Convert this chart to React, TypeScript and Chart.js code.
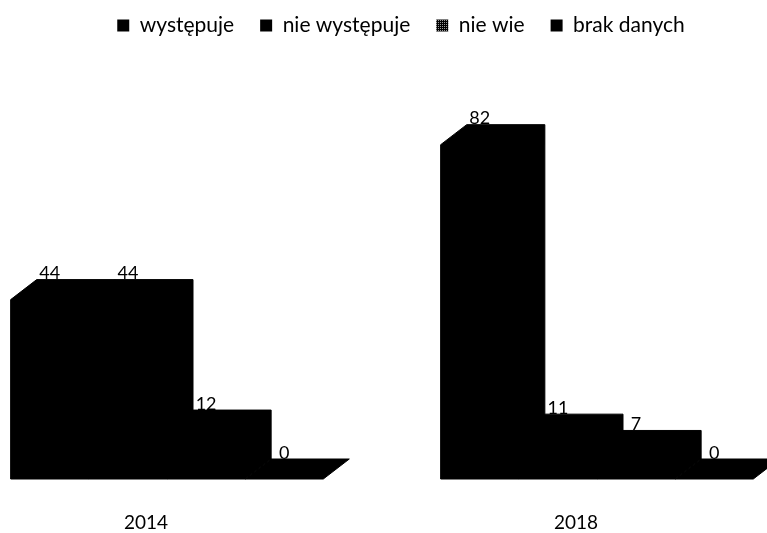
import React, { useEffect, useRef } from "react";
import { Chart, registerables } from "chart.js";

Chart.register(...registerables);

const years = ["2014", "2018"];
const seriesNames = ["występuje", "nie występuje", "nie wie", "brak danych"];
const wystepuje = [44, 82];
const nieWystepuje = [44, 11];
const nieWie = [12, 7];
const brakDanych = [0, 0];

const INK = "#000000";
const FONT = "Lato, sans-serif";
const DEPTH_X = 26;
const DEPTH_Y = 20;
const LABEL_RISE = 26;

const depthPlugin = {
  id: "depth",
  beforeDatasetsDraw(chart: any) {
    const { ctx } = chart;
    ctx.save();
    ctx.fillStyle = INK;
    ctx.strokeStyle = INK;
    ctx.lineWidth = 1;
    ctx.lineJoin = "round";
    chart.data.datasets.forEach((_: any, i: number) => {
      chart.getDatasetMeta(i).data.forEach((bar: any) => {
        const p = bar.getProps(["x", "y", "base", "width"], true);
        const l = p.x - p.width / 2;
        const r = p.x + p.width / 2;
        ctx.beginPath();
        ctx.moveTo(l, p.y);
        ctx.lineTo(l + DEPTH_X, p.y - DEPTH_Y);
        ctx.lineTo(r + DEPTH_X, p.y - DEPTH_Y);
        ctx.lineTo(r + DEPTH_X, p.base - DEPTH_Y);
        ctx.lineTo(r, p.base);
        ctx.lineTo(l, p.base);
        ctx.closePath();
        ctx.fill();
        ctx.stroke();
      });
    });
    ctx.restore();
  },
  afterDatasetsDraw(chart: any) {
    const { ctx } = chart;
    ctx.save();
    ctx.fillStyle = INK;
    ctx.font = `18px ${FONT}`;
    ctx.textAlign = "center";
    ctx.textBaseline = "middle";
    chart.data.datasets.forEach((ds: any, i: number) => {
      chart.getDatasetMeta(i).data.forEach((bar: any, j: number) => {
        const p = bar.getProps(["x", "y"], true);
        ctx.fillText(String(ds.data[j]), p.x, p.y - LABEL_RISE);
      });
    });
    ctx.restore();
  },
};

function speckle(): CanvasPattern | string {
  const c = document.createElement("canvas");
  c.width = 2;
  c.height = 2;
  const g = c.getContext("2d");
  if (!g) return "#444444";
  g.fillStyle = "#000000";
  g.fillRect(0, 0, 2, 2);
  g.fillStyle = "#9a9a9a";
  g.fillRect(0, 0, 1, 1);
  return g.createPattern(c, "repeat") || "#444444";
}

export default function App() {
  const ref = useRef<HTMLCanvasElement | null>(null);
  useEffect(() => {
    if (!ref.current) return;
    const values = [wystepuje, nieWystepuje, nieWie, brakDanych];
    const legendFill = speckle();
    const hiddenAxis = (position: string, width: number) => ({
      axis: "y",
      position,
      min: 0,
      max: 106.2,
      grid: { display: false, drawTicks: false },
      border: { display: false },
      ticks: { display: false },
      afterFit: (s: any) => {
        s.width = width;
      },
    });
    const chart = new Chart(ref.current, {
      type: "bar",
      data: {
        labels: years,
        datasets: seriesNames.map((label, i) => ({
          label,
          data: values[i],
          backgroundColor: INK,
          borderWidth: 0,
          clip: false,
          barPercentage: 1,
          categoryPercentage: 0.727,
        })),
      },
      plugins: [depthPlugin],
      options: {
        responsive: false,
        animation: false,
        layout: { padding: { left: 35, right: 0, top: -11, bottom: 0 } },
        scales: {
          x: {
            offset: false,
            grid: { display: false, drawTicks: false },
            border: { display: false },
            ticks: {
              color: INK,
              font: { family: FONT, size: 19 },
              padding: 32,
              labelOffset: -21,
              autoSkip: false,
              maxRotation: 0,
            },
            afterFit: (s: any) => {
              s.height = 54;
            },
          },
          y: hiddenAxis("left", 132),
          yRight: hiddenAxis("right", 170),
        },
        plugins: {
          tooltip: { enabled: false },
          legend: {
            position: "top",
            labels: {
              boxWidth: 12,
              boxHeight: 12,
              padding: 26,
              color: INK,
              font: { family: FONT, size: 21 },
              generateLabels: (c: any) =>
                c.data.datasets.map((ds: any, i: number) => ({
                  text: ds.label,
                  fillStyle: i === 2 ? legendFill : INK,
                  strokeStyle: "transparent",
                  lineWidth: 0,
                  fontColor: INK,
                  datasetIndex: i,
                  hidden: false,
                })),
            },
          },
        },
      },
    } as any);
    return () => chart.destroy();
  }, []);
  return (
    <canvas
      ref={ref}
      width={767}
      height={533}
      style={{ position: "fixed", left: 0, top: 0, width: 767, height: 533, display: "block" }}
    />
  );
}
